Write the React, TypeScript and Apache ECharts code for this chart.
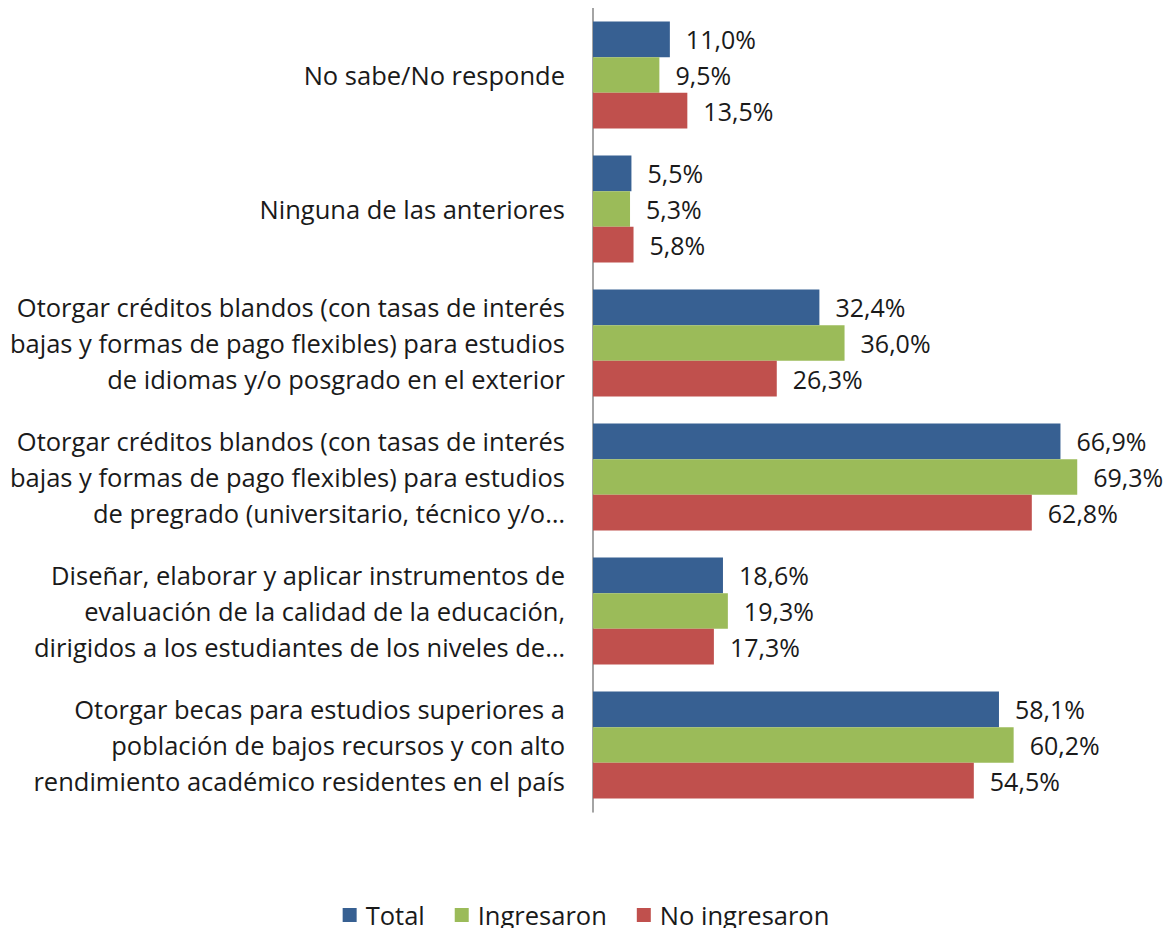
import React, { useEffect, useRef } from "react";
import * as echarts from "echarts";

const categories = [
  "No sabe/No responde",
  "Ninguna de las anteriores",
  "Otorgar créditos blandos (con tasas de interés\nbajas y formas de pago flexibles) para estudios\nde idiomas y/o posgrado en el exterior",
  "Otorgar créditos blandos (con tasas de interés\nbajas y formas de pago flexibles) para estudios\nde pregrado (universitario, técnico y/o…",
  "Diseñar, elaborar y aplicar instrumentos de\nevaluación de la calidad de la educación,\ndirigidos a los estudiantes de los niveles de…",
  "Otorgar becas para estudios superiores a\npoblación de bajos recursos y con alto\nrendimiento académico residentes en el país",
];

const seriesNames = ["Total", "Ingresaron", "No ingresaron"];
const totalValues = [11.0, 5.5, 32.4, 66.9, 18.6, 58.1];
const ingresaronValues = [9.5, 5.3, 36.0, 69.3, 19.3, 60.2];
const noIngresaronValues = [13.5, 5.8, 26.3, 62.8, 17.3, 54.5];
const colors = ["#376092", "#9BBB59", "#C0504D"];

const FONT = "Open Sans";

export default function App() {
  const ref = useRef<HTMLDivElement>(null);
  useEffect(() => {
    if (!ref.current) return;
    const chart = echarts.init(ref.current, null, { renderer: "svg" });
    const values = [totalValues, ingresaronValues, noIngresaronValues];
    chart.setOption({
      animation: false,
      textStyle: { fontFamily: FONT },
      grid: { left: 593, top: 8, width: 559, height: 804, containLabel: false },
      legend: {
        top: 897,
        left: "center",
        icon: "rect",
        itemWidth: 14,
        itemHeight: 14,
        itemGap: 30,
        textStyle: { fontSize: 25.5, color: "#1a1a1a", fontFamily: FONT, padding: [0, 0, 0, 4] },
        data: seriesNames,
      },
      xAxis: {
        type: "value",
        min: 0,
        max: 80,
        show: false,
      },
      yAxis: {
        type: "category",
        inverse: true,
        data: categories,
        axisLine: { show: true, lineStyle: { color: "#868686", width: 1.5 } },
        axisTick: { show: false },
        axisLabel: {
          margin: 28,
          fontSize: 25.5,
          lineHeight: 36,
          color: "#1a1a1a",
          align: "right",
          fontFamily: FONT,
        },
      },
      series: seriesNames.map((name, i) => ({
        name,
        type: "bar",
        data: values[i],
        barGap: "0%",
        barCategoryGap: "20%",
        itemStyle: { color: colors[i] },
        label: {
          show: true,
          position: "right",
          distance: 16,
          fontSize: 25,
          color: "#1a1a1a",
          fontFamily: FONT,
          formatter: (p: any) => p.value.toFixed(1).replace(".", ",") + "%",
        },
      })),
    });
    return () => chart.dispose();
  }, []);
  return <div ref={ref} style={{ width: 1172, height: 936, margin: -8 }} />;
}
